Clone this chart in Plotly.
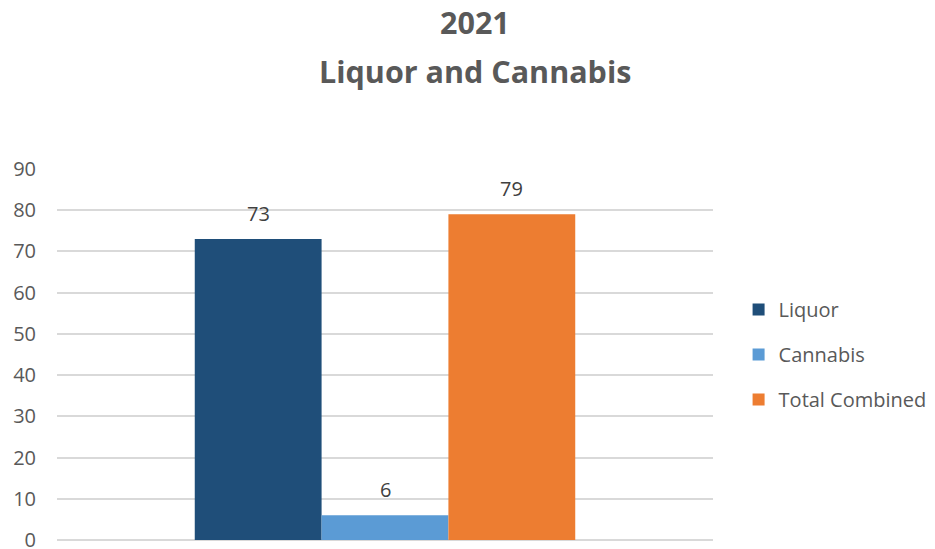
import plotly.graph_objects as go

categories = ["2021"]
series_names = ["Liquor", "Cannabis", "Total Combined"]
liquor = [73]
cannabis = [6]
total_combined = [79]
colors = ["#1F4E79", "#5B9BD5", "#ED7D31"]
y_ticks = [0, 10, 20, 30, 40, 50, 60, 70, 80, 90]
title_lines = ["2021", "Liquor and Cannabis"]

FONT = "Open Sans, Lato, sans-serif"
BARGAP = 0.42
series_values = [liquor, cannabis, total_combined]

fig = go.Figure()
for i, (name, vals) in enumerate(zip(series_names, series_values)):
    fig.add_trace(go.Bar(
        x=categories, y=vals, name=name,
        marker=dict(color=colors[i], line=dict(width=0)),
        legendgroup=name,
    ))

# data labels above each bar, positioned from the bar's category slot
n = len(series_names)
w = (1 - BARGAP) / n
for i, vals in enumerate(series_values):
    for j, v in enumerate(vals):
        fig.add_annotation(
            x=j + (i - (n - 1) / 2) * w, y=v, xref="x", yref="y",
            text=str(v), showarrow=False, yanchor="bottom", yshift=10,
            font=dict(family=FONT, size=20, color="#404040"),
        )

# two-line bold title
for k, line in enumerate(title_lines):
    fig.add_annotation(
        x=0.637, xref="paper", y=1.395 - k * 0.13, yref="paper",
        text=f"<b>{line}</b>", showarrow=False, xanchor="center", yanchor="middle",
        font=dict(family=FONT, size=30.5, color="#595959"),
    )

fig.update_layout(
    width=935, height=549,
    paper_bgcolor="white", plot_bgcolor="white",
    margin=dict(l=57, r=222, t=169, b=9, autoexpand=False),
    barmode="group", bargap=BARGAP, bargroupgap=0,
    font=dict(family=FONT, color="#595959"),
    legend=dict(
        x=1.039, xanchor="left", y=0.5, yanchor="middle",
        font=dict(family=FONT, size=20, color="#595959"),
        traceorder="grouped", tracegroupgap=16,
        itemwidth=30,
    ),
    showlegend=True,
)
fig.update_xaxes(showticklabels=False, showgrid=False, showline=False, ticks="")
fig.update_yaxes(
    range=[0, 90], tickvals=y_ticks, showgrid=True, gridcolor="#D9D9D9", gridwidth=1.5,
    zeroline=True, zerolinecolor="#D9D9D9", zerolinewidth=1.5,
    tickfont=dict(family=FONT, size=20, color="#595959"), ticks="", ticklabelstandoff=20,
    ticklabeloverflow="allow",
)
fig.write_html(
    "out.html",
    config={"displayModeBar": False},
    post_script="document.body.style.margin='0';document.body.style.overflow='hidden';",
)
